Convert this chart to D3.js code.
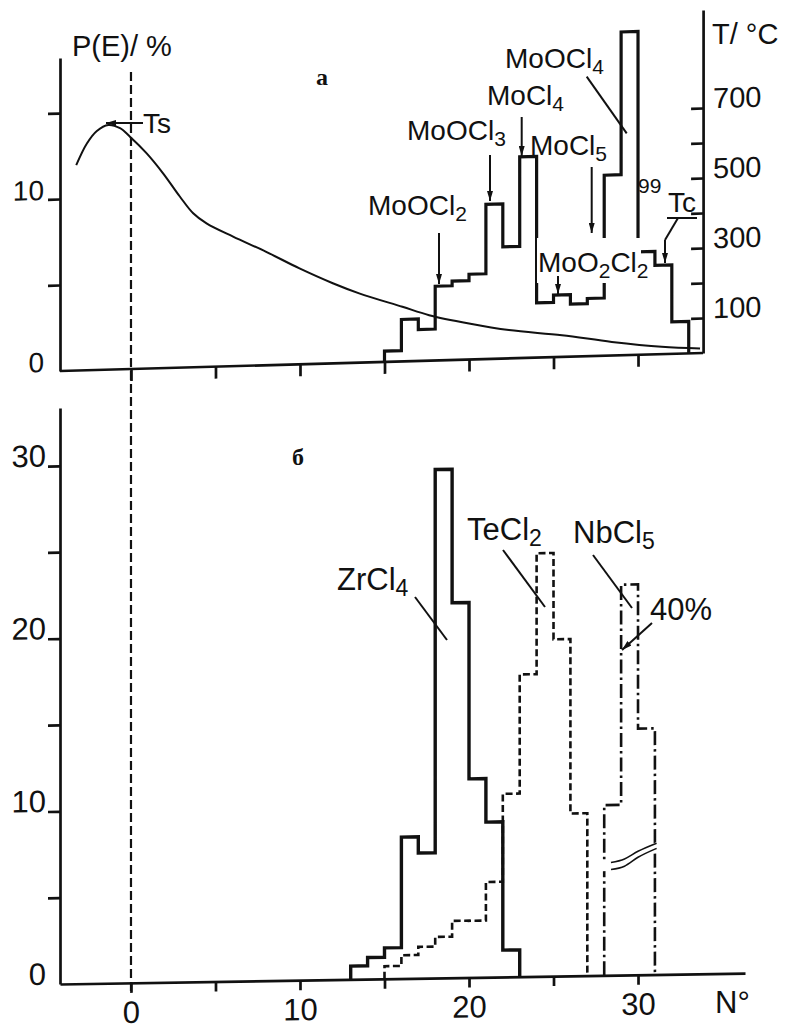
<!DOCTYPE html>
<html>
<head>
<meta charset="utf-8">
<script src="https://cdn.jsdelivr.net/npm/d3@7"></script>
<style>
  body { margin: 0; background: #fff; }
  svg { display: block; }
  text { font-family: "Liberation Sans", Arial, sans-serif; fill: #111; }
  .serif { font-family: "Liberation Serif", "DejaVu Serif", serif; font-weight: bold; }
  .ax path, .ax line { stroke: #111; stroke-width: 2.7; }
  .hist { fill: none; stroke: #111; stroke-linejoin: miter; }
  .lead { stroke: #111; stroke-width: 2; fill: none; }
</style>
</head>
<body>
<svg id="chart" width="788" height="1030"></svg>
<script>
  //begin: data
  // panel a : P(E)/% per fraction N, molybdenum species
  var moStart = 15,
      moValues = [0.63, 2.44, 1.83, 4.32, 4.59, 4.96, 9.0, 6.5, 11.7, 3.19, 3.61, 3.06, 3.36, 10.5, 18.8, 5.99, 5.18, 1.86];
  // panel a : temperature profile along the column
  var curveN = [-3.24, -2.61, -2.02, -1.34, -0.65, -0.06, 0.93, 1.91, 2.89, 3.68, 4.47, 6.04, 8.0, 9.97, 11.94, 13.5, 16.06, 17.64, 20.0, 22.36, 25.5, 28.45, 31.4, 33.67],
      curveT = [587, 648, 683, 699, 689, 664, 615, 556, 489, 440, 410, 370, 324, 274, 229, 198, 156, 130, 103, 81, 62, 39, 21, 13];
  // panel б
  var zrStart = 13,
      zrValues = [0.77, 1.25, 1.79, 8.19, 7.25, 29.44, 21.71, 11.5, 8.98, 1.55];
  var teStart = 15,
      teValues = [0.73, 1.35, 1.82, 2.38, 3.29, 3.28, 5.51, 10.6, 17.5, 24.5, 19.5, 9.4];
  var nbStart = 28,
      nbValues = [9.85, 22.6, 14.25];
  // scale break drawn on the NbCl5 peak (40 %)
  var breakN  = [27.9, 28.4, 29.2, 30, 31.1],
      breakHi = [6.57, 6.52, 6.72, 7.15, 7.6],
      breakLo = [6.08, 6.12, 6.3, 6.8, 7.3];
  // ticks
  var xTicks = [0, 5, 10, 15, 20, 25, 30],
      xLabels = [0, 10, 20, 30],
      pTicks = [0, 5, 10, 15],
      pLabels = [0, 10],
      tTicks = [100, 200, 300, 400, 500, 600, 700],
      tLabels = [100, 300, 500, 700],
      cTicks = [0, 5, 10, 15, 20, 25, 30],
      cLabels = [0, 10, 20, 30];
  //end: data

  //begin: layout conf.
  var axisLeftX = 60,
      topRightN = 33.85,
      topSkew = -0.028,
      botSkew = -0.016;

  var x = d3.scaleLinear().domain([-4.2, 36.33]).range([60, 745]);
  var yP = d3.scaleLinear().domain([0, 18.2]).range([371, 58]);
  var yT = d3.scaleLinear().domain([0, 980]).range([371, 28]);
  var yC = d3.scaleLinear().domain([0, 33.35]).range([984, 408]);
  //end: layout conf.

  var svg = d3.select("#chart");

  svg.append("defs").append("marker")
    .attr("id", "ah")
    .attr("viewBox", "0 0 10 6")
    .attr("refX", 10).attr("refY", 3)
    .attr("markerUnits", "userSpaceOnUse")
    .attr("markerWidth", 11).attr("markerHeight", 6)
    .attr("orient", "auto")
    .append("path").attr("d", "M0,0L10,3L0,6Z").attr("fill", "#111");

  // the scan is slightly sheared: baselines drop towards the right
  function shear(k) { return "matrix(1," + k + ",0,1,0," + (-k * axisLeftX) + ")"; }

  var topG = svg.append("g").attr("transform", shear(topSkew));
  var botG = svg.append("g").attr("transform", shear(botSkew));

  function stepPoints(start, vals) {
    var pts = [[start, 0]];
    vals.forEach(function(v, i) { pts.push([start + i, v]); });
    pts.push([start + vals.length, vals[vals.length - 1]]);
    pts.push([start + vals.length, 0]);
    return pts;
  }

  function styleAxis(g, size) {
    g.attr("font-size", size).attr("font-family", null).classed("ax", true);
  }

  //begin: panel a
  topG.append("g")
    .attr("transform", "translate(" + axisLeftX + ",0)")
    .call(d3.axisLeft(yP).tickValues(pTicks).tickSize(12).tickSizeOuter(0)
      .tickFormat(function(d) { return pLabels.indexOf(d) >= 0 ? d : ""; }))
    .call(function(g) {
      styleAxis(g, 28);
      g.selectAll(".tick text").attr("x", -16).attr("dy", 0);
      g.selectAll(".tick").filter(function(d) { return d === 0; }).select("line").remove();
    });

  topG.append("g")
    .attr("transform", "translate(0," + yP(0) + ")")
    .call(d3.axisBottom(x).tickValues(xTicks).tickSize(12).tickFormat(""))
    .call(function(g) { styleAxis(g, 28); g.select(".domain").remove(); });

  topG.append("line")
    .attr("x1", axisLeftX).attr("x2", x(topRightN))
    .attr("y1", yP(0)).attr("y2", yP(0))
    .attr("stroke", "#111").attr("stroke-width", 2.7);

  topG.append("g")
    .attr("transform", "translate(" + x(topRightN) + ",0)")
    .call(d3.axisRight(yT).tickValues(tTicks).tickSizeInner(-12).tickSizeOuter(0)
      .tickFormat(function(d) { return tLabels.indexOf(d) >= 0 ? d : ""; }))
    .call(function(g) {
      styleAxis(g, 29);
      g.selectAll(".tick text").attr("x", 10).attr("dy", 0);
    });

  topG.append("path")
    .datum(curveN.map(function(n, i) { return [n, curveT[i]]; }))
    .attr("fill", "none").attr("stroke", "#111").attr("stroke-width", 2)
    .attr("d", d3.line()
      .x(function(d) { return x(d[0]); })
      .y(function(d) { return yT(d[1]); })
      .curve(d3.curveCatmullRom.alpha(0.5)));

  topG.append("path")
    .datum(stepPoints(moStart, moValues))
    .classed("hist", true).attr("stroke-width", 3.2)
    .attr("d", d3.line()
      .x(function(d) { return x(d[0]); })
      .y(function(d) { return yP(d[1]); })
      .curve(d3.curveStepAfter));
  //end: panel a

  //begin: panel б
  botG.append("g")
    .attr("transform", "translate(" + axisLeftX + ",0)")
    .call(d3.axisLeft(yC).tickValues(cTicks).tickSize(12).tickSizeOuter(0)
      .tickFormat(function(d) { return cLabels.indexOf(d) >= 0 ? d : ""; }))
    .call(function(g) {
      styleAxis(g, 31);
      g.selectAll(".tick text").attr("x", -14).attr("dy", 0);
      g.selectAll(".tick").filter(function(d) { return d === 0; }).select("line").remove();
    });

  botG.append("g")
    .attr("transform", "translate(0," + yC(0) + ")")
    .call(d3.axisBottom(x).tickValues(xTicks).tickSize(10).tickSizeOuter(0)
      .tickFormat(function(d) { return xLabels.indexOf(d) >= 0 ? d : ""; }))
    .call(function(g) {
      styleAxis(g, 31);
      g.selectAll(".tick text").attr("y", 40).attr("dy", 0);
    });

  var stepBot = d3.line()
    .x(function(d) { return x(d[0]); })
    .y(function(d) { return yC(d[1]); })
    .curve(d3.curveStepAfter);

  botG.append("path").datum(stepPoints(teStart, teValues))
    .classed("hist", true).attr("stroke-width", 2.6)
    .attr("stroke-dasharray", "7,3.5").attr("d", stepBot);

  botG.append("path").datum(stepPoints(nbStart, nbValues))
    .classed("hist", true).attr("stroke-width", 2.6)
    .attr("stroke-dasharray", "14,4,2.5,4").attr("d", stepBot);

  botG.append("path").datum(stepPoints(zrStart, zrValues))
    .classed("hist", true).attr("stroke-width", 3.4).attr("d", stepBot);

  var breakData = breakN.map(function(n, i) { return {n: n, hi: breakHi[i], lo: breakLo[i]}; });
  botG.append("path").datum(breakData)
    .attr("fill", "#fff").attr("stroke", "#fff").attr("stroke-width", 2)
    .attr("d", d3.area()
      .x(function(d) { return x(d.n); })
      .y0(function(d) { return yC(d.lo); })
      .y1(function(d) { return yC(d.hi); })
      .curve(d3.curveMonotoneX));
  ["hi", "lo"].forEach(function(key) {
    botG.append("path").datum(breakData.slice(1))
      .attr("fill", "none").attr("stroke", "#111").attr("stroke-width", 1.6)
      .attr("d", d3.line()
        .x(function(d) { return x(d.n); })
        .y(function(d) { return yC(d[key]); })
        .curve(d3.curveMonotoneX));
  });
  //end: panel б

  // starting position of the column (N = 0), crossing both panels
  svg.append("line")
    .attr("x1", x(0)).attr("x2", x(0)).attr("y1", 72).attr("y2", 992)
    .attr("stroke", "#111").attr("stroke-width", 2.2).attr("stroke-dasharray", "9,4");

  //begin: annotations
  var notes = svg.append("g");

  // knock-out behind MoO2Cl2, as in the original
  notes.append("rect").attr("x", 537).attr("y", 238).attr("width", 104).attr("height", 45).attr("fill", "#fff");

  var leaders = [
    [143, 123, 106, 123, true],
    [439, 233, 439, 284, true],
    [490, 155, 490, 201, true],
    [521.7, 117, 521.7, 156, true],
    [591.7, 167, 591.7, 233, true],
    [558, 276, 558, 294, true],
    [586.7, 76.7, 626.7, 133.3, false],
    [667, 218, 697, 218, false],
    [678, 218, 665, 240, false],
    [665, 240, 665, 263, true],
    [415, 597, 447, 640, false],
    [503, 550, 545, 607, false],
    [593, 555, 632, 608, false],
    [652, 623, 622, 650, true]
  ];
  leaders.forEach(function(l) {
    notes.append("line").classed("lead", true)
      .attr("x1", l[0]).attr("y1", l[1]).attr("x2", l[2]).attr("y2", l[3])
      .attr("marker-end", l[4] ? "url(#ah)" : null);
  });

  var labels = [
    {t: "P(E)/ %", x: 72, y: 56, s: 29},
    {t: "Ts", x: 143, y: 133, s: 28},
    {t: "MoOCl_2", x: 368, y: 215, s: 28},
    {t: "MoOCl_3", x: 407, y: 140, s: 28},
    {t: "MoCl_4", x: 487, y: 105, s: 28},
    {t: "MoOCl_4", x: 505, y: 68, s: 28},
    {t: "MoCl_5", x: 530, y: 155, s: 28},
    {t: "MoO_2Cl_2", x: 538, y: 272, s: 28},
    {t: "Tc", x: 668, y: 212, s: 28},
    {t: "T/ °C", x: 712, y: 44, s: 29},
    {t: "ZrCl_4", x: 337, y: 590, s: 31},
    {t: "TeCl_2", x: 467, y: 540, s: 31},
    {t: "NbCl_5", x: 573, y: 543, s: 31},
    {t: "40%", x: 650, y: 620, s: 31},
    {t: "N°", x: 715, y: 1013, s: 31}
  ];
  labels.forEach(function(l) {
    var txt = notes.append("text").attr("x", l.x).attr("y", l.y).attr("font-size", l.s);
    var down = false;
    l.t.split(/(_\d)/).filter(function(p) { return p.length; }).forEach(function(p) {
      if (p[0] === "_") {
        txt.append("tspan").attr("font-size", Math.round(l.s * 0.75)).attr("dy", 6).text(p.slice(1));
        down = true;
      } else {
        txt.append("tspan").attr("dy", down ? -6 : null).text(p);
        down = false;
      }
    });
  });

  notes.append("text").attr("x", 638).attr("y", 193).attr("font-size", 21).text("99");
  notes.append("text").classed("serif", true).attr("x", 316).attr("y", 85).attr("font-size", 24).text("а");
  notes.append("text").classed("serif", true).attr("x", 292).attr("y", 465).attr("font-size", 24).text("б");
  //end: annotations
</script>
</body>
</html>
